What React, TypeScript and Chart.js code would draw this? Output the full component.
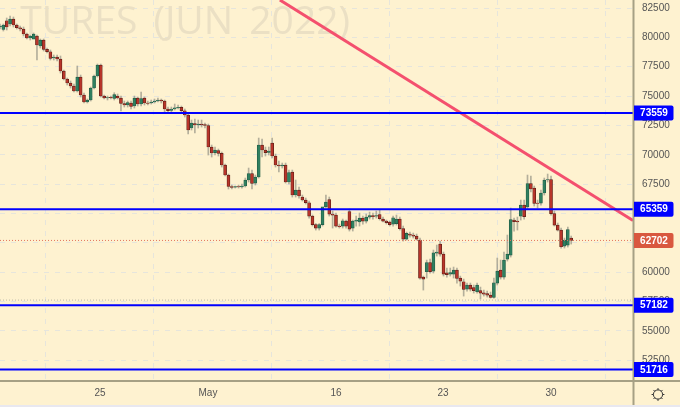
import React, { useEffect, useRef } from "react";
import { Chart, registerables } from "chart.js";

Chart.register(...registerables);

const opens = [80882,80669,81418,81137,81563,81052,80822,80711,80285,79945,79855,80115,79263,79774,78982,78777,78240,78326,78155,77133,76451,76110,75855,75429,76621,75088,74492,74662,75684,76707,77644,75003,74832,74892,74790,75003,74832,74364,74236,74406,74151,74832,74321,74832,74406,74406,74492,74577,74662,74577,73895,73767,73895,74006,74040,73750,73384,72276,72660,72532,72617,72575,72490,70658,70172,70359,70121,69124,68272,67292,67249,67283,67266,67335,67846,68400,67590,68102,70828,70402,70189,71000,69891,69124,69039,69124,67676,68528,66568,66994,66398,66142,65912,64779,64055,63756,64055,65571,66185,64949,64864,63927,63927,64353,65162,63756,64353,64268,64608,64353,64693,64821,64779,64907,64523,64353,64268,64097,64140,64523,63714,62819,63245,63160,63075,62734,59582,60034,60817,60093,61627,62393,61541,59948,59837,59837,60178,59496,59182,58559,58900,58687,58329,58432,58244,58176,58048,57852,59070,60178,59582,61115,61456,64438,64353,64779,65716,65546,67547,67164,65886,65886,66739,67846,67889,64992,64012,63586,62223,62308,62905];
const closes = [80967,81052,80882,81563,81052,80822,80711,80285,79945,80115,80285,79348,79774,78982,78777,78215,78326,78155,77133,76451,76110,75855,75429,76621,75088,74492,74662,75684,76707,77644,75003,74832,74875,74858,75130,74832,74364,74236,74449,74108,74832,74321,74790,74406,74364,74492,74577,74662,74577,73895,73750,73895,74006,74040,73750,73384,72106,72702,72532,72617,72532,72490,70658,70146,70402,70121,69124,68272,67292,67224,67283,67266,67335,67846,68400,67565,68102,70828,70402,70172,70317,69891,69124,69039,69124,67676,68485,66568,66994,66483,66142,65912,64779,64055,63756,64055,65571,65971,64949,64864,63927,63884,64378,63927,63671,64353,64438,64608,64353,64693,64821,64736,64821,64566,64353,64225,64055,64634,64523,63714,62819,63305,63160,63075,62819,59496,59411,60817,60051,61652,61712,61541,59837,59795,59964,60178,59471,59241,58534,58900,58559,58432,58900,58218,58133,58048,57852,59096,60093,59582,61030,61541,64481,64310,64268,65716,64736,67547,67079,65861,65844,66739,67846,67889,64992,64012,63586,62163,62734,63629,62702];
const highs = [81137,81137,81648,81819,81734,81137,80967,80882,80370,80200,80370,80200,79860,79860,79092,78922,78496,78496,78411,77218,76536,76281,76025,77559,76792,75258,74747,75770,76792,77729,77729,75088,75003,75003,75284,75173,75003,74577,74577,74577,75003,74918,75344,74918,74577,74662,74747,74832,74747,74662,74066,74066,74321,74236,74151,73895,73469,72958,73043,72958,72958,72702,72617,70828,70658,70487,70231,69209,68357,67420,67335,67420,67505,68016,68868,68698,68272,71424,71339,70658,70658,71424,70061,69465,69294,69294,68698,68698,67846,67249,66568,66312,66057,64864,64140,64140,64140,66568,66398,65205,65034,64097,64523,64438,65375,64438,64779,65034,64779,64949,65120,65034,65205,65290,64693,64438,64353,64779,64864,64693,63927,63416,63416,63330,63245,62905,59667,61030,61115,61882,62308,62649,61712,60349,60349,60434,60349,59667,59411,59070,59070,58900,59070,58730,58474,58389,58304,59496,61200,61030,61712,63160,65460,64608,64693,66142,66142,68272,68187,67335,66142,66994,68016,68357,68187,65205,64183,63756,62905,63841,63075];
const lows = [80711,80541,80626,80967,80882,80711,80541,80115,79860,79774,79945,78070,79092,78837,78666,78070,78070,77985,76962,76366,75940,75684,75344,75344,74918,74406,74406,74577,75599,76621,74918,74747,74662,74747,74662,74747,73725,74066,74066,73895,73980,74151,74151,74236,74236,74321,74406,74492,74406,73554,73640,73640,73810,73895,73640,73214,71765,72106,71850,72276,72362,72276,69976,69806,69976,69891,68954,68187,67079,67079,67164,67164,67164,67249,67676,67079,67420,68016,69806,69891,69976,69720,68954,68528,68869,67590,67505,66398,66398,66312,66057,65801,64608,63927,63586,63586,63927,65460,64779,63756,63841,63756,63756,63756,63501,63501,63927,63927,64097,64183,64523,64523,64608,64438,64268,64097,63927,63927,64012,63586,62649,62734,62990,62905,62734,59411,58474,59496,59923,59923,61371,61371,59667,59582,59667,59496,59070,58815,57962,58389,58389,58218,58218,57707,57962,57878,57792,57792,58900,59411,59411,60944,61285,63501,63586,64438,64523,65375,66824,65631,65460,65716,66568,67676,64864,63927,63501,62052,62052,62138,62393];

const yTicks = [82500,80000,77500,75000,72500,70000,67500,65000,62500,60000,57500,55000,52500];
const dateLabels = ["25","May","16","23","30"];
const datePositions = [29.76,61.9,100,131.85,164];
const levels = [73559,65359,57182,51716];
const lastPrice = 62702;
const prevLow = 57620;
const trendStart = { x: 83.3, y: 83182 };
const trendEnd = { x: 188.4, y: 64391 };
const xMax = 188.4;
const yMin = 50728;
const yMax = 83182;
const watermark = "TURES (JUN 2022)";

const FONT = '"Liberation Sans", Arial, sans-serif';
const BG = "#fef2d0";

function badge(ctx: CanvasRenderingContext2D, y: number, color: string, label: string) {
  const x0 = 634, x1 = 673.5, h = 15, r = 2;
  ctx.fillStyle = color;
  ctx.beginPath();
  ctx.moveTo(x0, y - h / 2);
  ctx.lineTo(x1 - r, y - h / 2);
  ctx.quadraticCurveTo(x1, y - h / 2, x1, y - h / 2 + r);
  ctx.lineTo(x1, y + h / 2 - r);
  ctx.quadraticCurveTo(x1, y + h / 2, x1 - r, y + h / 2);
  ctx.lineTo(x0, y + h / 2);
  ctx.closePath();
  ctx.fill();
  ctx.fillStyle = "#ffffff";
  ctx.font = `bold 10px ${FONT}`;
  ctx.textAlign = "center";
  ctx.textBaseline = "middle";
  ctx.fillText(label, 654, y + 0.5);
}

function gear(ctx: CanvasRenderingContext2D, cx: number, cy: number) {
  ctx.strokeStyle = "#333";
  ctx.lineWidth = 1;
  ctx.beginPath();
  ctx.arc(cx, cy, 4.6, 0, Math.PI * 2);
  ctx.stroke();
  for (let i = 0; i < 8; i++) {
    const a = (i * Math.PI) / 4;
    ctx.beginPath();
    ctx.moveTo(cx + Math.cos(a) * 4.6, cy + Math.sin(a) * 4.6);
    ctx.lineTo(cx + Math.cos(a) * 6.4, cy + Math.sin(a) * 6.4);
    ctx.stroke();
  }
}

const chrome = {
  id: "chrome",
  beforeDraw(chart: any) {
    const { ctx, width, height } = chart;
    ctx.save();
    ctx.fillStyle = BG;
    ctx.fillRect(0, 0, width, height);
    ctx.fillStyle = "#e8e8f0";
    ctx.fillRect(0, 405, width, height - 405);
    ctx.restore();
  },
  beforeDatasetsDraw(chart: any) {
    const { ctx } = chart;
    ctx.save();
    ctx.fillStyle = "#ebe0c4";
    ctx.font = '39px "Open Sans", sans-serif';
    (ctx as any).wordSpacing = "6px";
    ctx.textAlign = "right";
    ctx.textBaseline = "alphabetic";
    ctx.fillText(watermark, 350, 34);
    ctx.restore();
  },
  afterDraw(chart: any) {
    const { ctx, scales } = chart;
    const y = scales.y;
    ctx.save();
    ctx.strokeStyle = "#a6a084";
    ctx.lineWidth = 2;
    ctx.beginPath();
    ctx.moveTo(633.5, 0);
    ctx.lineTo(633.5, 405);
    ctx.moveTo(0, 381);
    ctx.lineTo(680, 381);
    ctx.stroke();
    levels.forEach((v) => badge(ctx, y.getPixelForValue(v), "#0000ff", String(v)));
    badge(ctx, y.getPixelForValue(lastPrice), "#d9583f", String(lastPrice));
    gear(ctx, 658, 394.5);
    ctx.restore();
  },
};

export default function App() {
  const ref = useRef<HTMLCanvasElement | null>(null);
  useEffect(() => {
    const pts = (fn: (i: number) => any) => opens.map((_, i) => ({ x: i, y: fn(i) }));
    const isUp = (i: number) => closes[i] >= opens[i];
    const hLine = (v: number, color: string, width: number, dash: number[] = []) => ({
      type: "line" as const,
      data: [{ x: 0, y: v }, { x: xMax, y: v }],
      borderColor: color,
      borderWidth: width,
      borderDash: dash,
      pointRadius: 0,
      order: 0,
    });
    const chart = new Chart(ref.current as HTMLCanvasElement, {
      type: "bar",
      data: {
        datasets: [
          ...levels.map((v) => hLine(v, "#0000ff", 2)),
          hLine(lastPrice, "#e2735c", 1, [1, 2]),
          hLine(prevLow, "#bdb9a8", 1, [1, 2]),
          {
            type: "line" as const,
            data: [trendStart, trendEnd],
            borderColor: "#f4506e",
            borderWidth: 3,
            pointRadius: 0,
            order: 0,
          },
          {
            data: pts((i) => [opens[i], closes[i]]),
            backgroundColor: opens.map((_, i) => (isUp(i) ? "#2f8060" : "#b8352a")),
            borderColor: opens.map((_, i) => (isUp(i) ? "#1f5a44" : "#5a1c14")),
            borderWidth: 0.7,
            borderSkipped: false,
            barThickness: 3,
            grouped: false,
            order: 1,
          },
          {
            data: pts((i) => [lows[i], highs[i]]),
            backgroundColor: "rgba(130,130,120,0.6)",
            borderWidth: 0,
            barThickness: 1,
            grouped: false,
            order: 2,
          },
        ] as any,
      },
      options: {
        responsive: false,
        animation: false,
        layout: { padding: 0 },
        plugins: { legend: { display: false }, tooltip: { enabled: false } },
        scales: {
          x: {
            type: "linear",
            min: 0,
            max: xMax,
            offset: false,
            afterBuildTicks: (s: any) => {
              s.ticks = datePositions.map((value) => ({ value }));
            },
            afterFit: (s: any) => {
              s.height = 26;
              s.paddingLeft = 0;
              s.paddingRight = 0;
            },
            grid: { color: "#e6e5dc", drawTicks: false },
            border: { display: false, dash: [5, 6] },
            ticks: {
              autoSkip: false,
              maxRotation: 0,
              padding: 6,
              color: "#555",
              font: { family: FONT, size: 10 },
              callback: (v: any) => dateLabels[datePositions.indexOf(Number(v))] ?? "",
            },
          },
          y: {
            position: "right",
            min: yMin,
            max: yMax,
            afterBuildTicks: (s: any) => {
              s.ticks = yTicks.map((value) => ({ value }));
            },
            afterFit: (s: any) => {
              s.width = 47;
              s.paddingTop = 0;
              s.paddingBottom = 0;
            },
            grid: { color: "#e6e5dc", drawTicks: false },
            border: { display: false, dash: [5, 6] },
            ticks: {
              padding: 9,
              color: "#555",
              font: { family: FONT, size: 10 },
              callback: (v: any) => String(v),
            },
          },
        },
      } as any,
      plugins: [chrome],
    });
    return () => chart.destroy();
  }, []);
  return (
    <div style={{ position: "fixed", left: 0, top: 0, width: 680, height: 407 }}>
      <canvas ref={ref} width={680} height={407} style={{ display: "block" }} />
    </div>
  );
}
